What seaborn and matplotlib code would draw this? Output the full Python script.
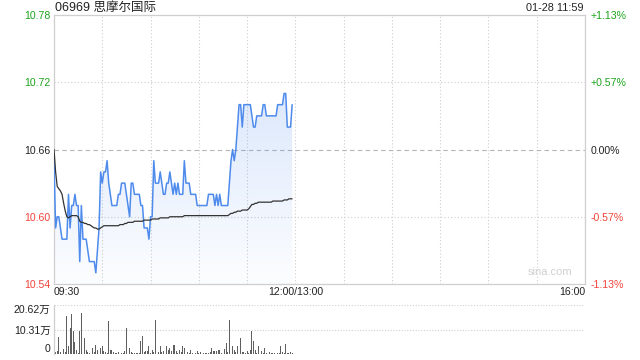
import numpy as np
import pandas as pd
import matplotlib
matplotlib.use("Agg")
import matplotlib.pyplot as plt
import seaborn as sns

title = "06969 思摩尔国际"
stamp = "01-28 11:59"
watermark = "sina.com"
prev_close = 10.66

price = [
    10.65, 10.59, 10.60, 10.60, 10.59, 10.58, 10.58, 10.58, 10.58, 10.62,
    10.59, 10.61, 10.61, 10.62, 10.61, 10.61, 10.56, 10.61, 10.58, 10.58,
    10.58, 10.57, 10.56, 10.56, 10.56, 10.56, 10.55, 10.57, 10.59, 10.64,
    10.63, 10.64, 10.64, 10.65, 10.63, 10.62, 10.61, 10.61, 10.61, 10.61,
    10.62, 10.62, 10.63, 10.63, 10.63, 10.62, 10.61, 10.60, 10.63, 10.63,
    10.62, 10.62, 10.62, 10.62, 10.61, 10.61, 10.59, 10.59, 10.59, 10.58,
    10.60, 10.60, 10.65, 10.63, 10.63, 10.63, 10.64, 10.63, 10.62, 10.62,
    10.63, 10.63, 10.64, 10.63, 10.62, 10.63, 10.62, 10.63, 10.62, 10.62,
    10.62, 10.65, 10.63, 10.63, 10.63, 10.62, 10.62, 10.62, 10.62, 10.61,
    10.61, 10.61, 10.61, 10.61, 10.61, 10.61, 10.62, 10.62, 10.62, 10.62,
    10.61, 10.62, 10.61, 10.62, 10.61, 10.61, 10.61, 10.61, 10.61, 10.63,
    10.65, 10.66, 10.65, 10.66, 10.68, 10.70, 10.70, 10.68, 10.70, 10.70,
    10.70, 10.70, 10.70, 10.69, 10.68, 10.68, 10.69, 10.69, 10.69, 10.69,
    10.70, 10.70, 10.69, 10.69, 10.69, 10.69, 10.69, 10.69, 10.69, 10.70,
    10.70, 10.70, 10.70, 10.71, 10.71, 10.68, 10.68, 10.68, 10.70,
]

avg_price = [
    10.660, 10.640, 10.627, 10.625, 10.623, 10.620, 10.612, 10.605, 10.600, 10.599,
    10.600, 10.601, 10.601, 10.601, 10.601, 10.600, 10.596, 10.595, 10.595, 10.594,
    10.594, 10.593, 10.593, 10.592, 10.591, 10.590, 10.590, 10.589, 10.589, 10.590,
    10.591, 10.592, 10.592, 10.592, 10.592, 10.592, 10.592, 10.592, 10.592, 10.592,
    10.592, 10.593, 10.593, 10.593, 10.594, 10.594, 10.595, 10.595, 10.595, 10.595,
    10.596, 10.596, 10.596, 10.596, 10.596, 10.596, 10.597, 10.597, 10.597, 10.597,
    10.597, 10.598, 10.598, 10.598, 10.598, 10.598, 10.599, 10.599, 10.599, 10.599,
    10.599, 10.599, 10.600, 10.600, 10.600, 10.600, 10.600, 10.600, 10.600, 10.600,
    10.600, 10.601, 10.601, 10.601, 10.601, 10.601, 10.601, 10.601, 10.601, 10.601,
    10.601, 10.601, 10.601, 10.601, 10.601, 10.601, 10.601, 10.601, 10.601, 10.601,
    10.601, 10.601, 10.601, 10.601, 10.601, 10.601, 10.601, 10.601, 10.601, 10.602,
    10.603, 10.603, 10.604, 10.604, 10.605, 10.605, 10.605, 10.606, 10.606, 10.606,
    10.606, 10.607, 10.609, 10.611, 10.611, 10.612, 10.612, 10.613, 10.613, 10.613,
    10.613, 10.613, 10.613, 10.613, 10.613, 10.613, 10.614, 10.614, 10.614, 10.614,
    10.614, 10.614, 10.614, 10.615, 10.615, 10.615, 10.616, 10.616, 10.616,
]

volume_wan = [
    8.8, 0.8, 1.2, 7.2, 0.7, 3.6, 2.0, 0.9, 16.2, 3.5,
    10.9, 16.9, 9.5, 5.0, 1.8, 0.6, 9.8, 17.1, 5.6, 6.7,
    1.8, 1.0, 0.5, 2.5, 2.5, 0.8, 3.9, 1.8, 20.62, 2.5,
    3.2, 1.4, 0.8, 0.6, 13.7, 1.8, 1.8, 0.8, 0.6, 0.5,
    0.8, 0.4, 0.6, 0.5, 1.2, 10.9, 3.2, 2.5, 0.8, 0.6,
    0.4, 0.4, 0.6, 0.5, 5.3, 7.4, 0.8, 1.1, 1.1, 3.2,
    0.6, 1.8, 0.9, 14.3, 1.8, 0.8, 3.2, 0.8, 1.1, 0.6,
    3.2, 1.8, 2.5, 1.1, 3.9, 3.6, 1.4, 0.6, 1.8, 0.8,
    3.2, 2.5, 2.5, 0.8, 0.6, 1.8, 0.5, 0.4, 0.6, 1.4,
    0.5, 0.8, 0.5, 0.4, 0.5, 0.4, 0.6, 0.8, 2.5, 1.4,
    1.1, 1.1, 1.8, 1.8, 0.6, 0.8, 2.2, 4.6, 0.8, 14.3,
    0.8, 3.2, 1.8, 0.8, 3.2, 3.9, 6.7, 0.8, 0.8, 0.5,
    1.1, 0.6, 1.8, 9.5, 5.3, 1.8, 0.6, 3.2, 0.8, 1.4,
    0.5, 2.5, 0.6, 0.8, 0.8, 0.5, 0.4, 0.5, 0.8, 0.4,
    0.5, 3.2, 0.8, 0.5, 4.2, 0.4, 0.5, 0.8, 0.4,
]

price_ticks = [10.54, 10.60, 10.66, 10.72, 10.78]
price_labels = ["10.54", "10.60", "10.66", "10.72", "10.78"]
pct_labels = ["-1.13%", "-0.57%", "0.00%", "+0.57%", "+1.13%"]
time_pos = [0, 150, 330]
time_labels = ["09:30", "12:00/13:00", "16:00"]
vol_ticks = [0, 10.31, 20.62]
vol_labels = ["0", "10.31万", "20.62万"]

GREEN = "#1ba31b"
RED = "#f0433a"
DARK = "#222222"
GRID = "#cfcfcf"
BLUE = "#4e8bec"

sns.set_theme(style="white")
plt.rcParams['font.family'] = ['Liberation Sans', 'Noto Sans CJK SC', 'DejaVu Sans']

df = pd.DataFrame({
    "minute": np.arange(len(price)),
    "price": price,
    "avg": avg_price,
    "volume": volume_wan,
})

fig = plt.figure(figsize=(6.4, 3.6), dpi=100)
ax = fig.add_axes([54 / 640, 76 / 360, 531 / 640, 269 / 360])
axv = fig.add_axes([54 / 640, 6 / 360, 531 / 640, 49 / 360])

ymin, ymax = price_ticks[0], price_ticks[-1]

# gradient fill under price line
poly = ax.fill_between(df["minute"], df["price"], ymin, color="none", lw=0)
grad = np.zeros((256, 1, 4))
base = matplotlib.colors.to_rgb("#5b93f0")
grad[..., 0] = base[0]
grad[..., 1] = base[1]
grad[..., 2] = base[2]
grad[:, 0, 3] = np.linspace(0.02, 0.22, 256)
im = ax.imshow(grad, extent=[0, len(price) - 1, ymin, 10.72], origin="lower",
               aspect="auto", zorder=1, interpolation="bilinear")
im.set_clip_path(poly.get_paths()[0], transform=ax.transData)

sns.lineplot(data=df, x="minute", y="price", ax=ax, color=BLUE, lw=1.1, zorder=3)
sns.lineplot(data=df, x="minute", y="avg", ax=ax, color="#333333", lw=0.9, zorder=3)

ax.set_xlim(0, 330)
ax.set_ylim(ymin, ymax)
ax.set_xlabel("")
ax.set_ylabel("")

# grid
for m in range(30, 330, 30):
    ax.axvline(m, color=GRID, lw=0.8, ls=(0, (1, 2)), zorder=0)
for v in [10.60, 10.72]:
    ax.axhline(v, color=GRID, lw=0.8, ls=(0, (1, 2)), zorder=0)
ax.axhline(prev_close, color="#b5b5b5", lw=0.8, ls=(0, (4, 3)), zorder=0)

for s in ax.spines.values():
    s.set_color(GRID)
    s.set_linewidth(0.9)

label_colors = [RED, RED, DARK, GREEN, GREEN]
ax.set_yticks(price_ticks)
ax.set_yticklabels(price_labels, fontsize=7.6)
for lbl, c in zip(ax.get_yticklabels(), label_colors):
    lbl.set_color(c)
ax.set_xticks(time_pos)
ax.set_xticklabels(time_labels, fontsize=7.6, color=DARK)
xl = ax.get_xticklabels()
xl[0].set_horizontalalignment("left")
xl[1].set_horizontalalignment("center")
xl[2].set_horizontalalignment("right")
ax.tick_params(axis="both", length=0, pad=2.5)

ax2 = ax.twinx()
ax2.set_ylim(ymin, ymax)
ax2.set_yticks(price_ticks)
ax2.set_yticklabels(pct_labels, fontsize=7.6)
for lbl, c in zip(ax2.get_yticklabels(), label_colors):
    lbl.set_color(c)
ax2.tick_params(axis="y", length=0, pad=4)
for s in ax2.spines.values():
    s.set_visible(False)

ax.text(0.935, 0.025, watermark, transform=ax.transAxes, ha="center", va="bottom",
        fontsize=8, color="#d0d0d0")

# volume panel
axv.bar(df["minute"], df["volume"], width=0.55, color="#5f5f5f", lw=0)
axv.set_xlim(0, 330)
axv.set_ylim(0, vol_ticks[-1])
for v in vol_ticks[1:]:
    axv.axhline(v, color=GRID, lw=0.8, ls=(0, (1, 1.5)), zorder=0)
axv.set_xticks([])
axv.set_yticks(vol_ticks)
axv.set_yticklabels(vol_labels, fontsize=7.6, color=DARK)
yl = axv.get_yticklabels()
yl[0].set_verticalalignment("bottom")
yl[2].set_verticalalignment("top")
axv.tick_params(axis="y", length=0, pad=2.5)
for k, s in axv.spines.items():
    s.set_visible(k == "left")
    s.set_color(GRID)
    s.set_linewidth(0.9)

fig.text(55 / 640, 1 - 8 / 360, title, ha="left", va="center", fontsize=9, color=DARK)
fig.text(584 / 640, 1 - 8 / 360, stamp, ha="right", va="center", fontsize=7.8, color=DARK)

fig.savefig("out.png", dpi=100)
